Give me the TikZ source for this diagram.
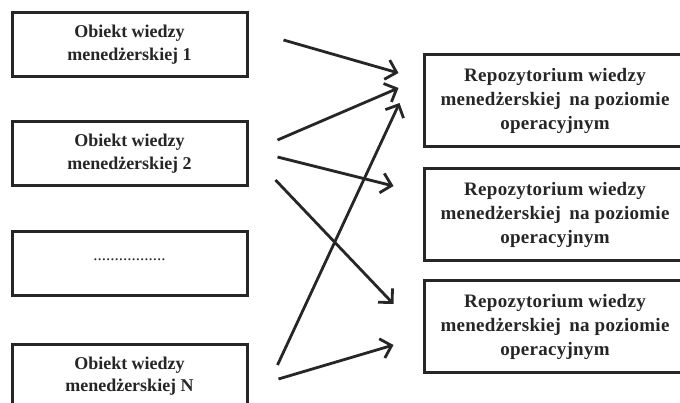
\documentclass[tikz,border=0pt]{standalone}
\usepackage{fontspec}
\setmainfont{Liberation Serif}
\newfontfamily\repofont[LetterSpace=1.5]{Liberation Serif}
\usepackage{tikz}
\usetikzlibrary{arrows.meta,positioning,calc}
\definecolor{InkGray}{HTML}{262626}

\begin{document}
\begin{tikzpicture}[x=1pt, y=-1pt,
          obj/.style={rectangle, draw=InkGray, line width=3pt, minimum width=235pt, minimum height=64pt, inner sep=0pt, text=InkGray, font=\fontsize{18}{23}\selectfont\bfseries, align=center},
          repo/.style={rectangle, draw=InkGray, line width=3pt, minimum width=261pt, minimum height=92pt, inner sep=0pt, text=InkGray, font=\repofont\fontsize{19}{24}\selectfont\bfseries, align=center},
          link/.style={draw=InkGray, line width=2.8pt, -{Straight Barb[length=10pt, width=20pt]}}
        ]
          \useasboundingbox (0,0) rectangle (680,403);
          \clip (0,0) rectangle (680,403);
          \fill[white] (0,0) rectangle (680,403);
          % source objects
          \node[obj] (obj1) at (129.5,45) {Obiekt wiedzy\\mened\.zerskiej 1};
          \node[obj] (obj2) at (129.5,154) {Obiekt wiedzy\\mened\.zerskiej 2};
          \node[obj, font=\fontsize{17}{18}\selectfont] (objdots) at (129.5,263.5) {\raisebox{8pt}{.................}};
          \node[obj] (objN) at (129.5,376) {\raisebox{-1pt}{Obiekt wiedzy}\\mened\.zerskiej N};
          % repositories
          \node[repo] (rep1) at (555,101) {Repozytorium wiedzy\\mened\.zerskiej\, na poziomie\\operacyjnym};
          \node[repo] (rep2) at (555,214.5) {Repozytorium wiedzy\\mened\.zerskiej\, na poziomie\\operacyjnym};
          \node[repo] (rep3) at (555,326.5) {Repozytorium wiedzy\\mened\.zerskiej\, na poziomie\\operacyjnym};
          % arrow ends
          \coordinate (s1) at ($(obj1.east)+(35,-5)$);
          \coordinate (e1) at ($(rep1.west)+(-24.5,-28)$);
          \coordinate (s2) at ($(obj2.east)+(29,-14)$);
          \coordinate (e2) at ($(rep1.west)+(-24.5,-13)$);
          \coordinate (s3) at ($(obj2.east)+(29,3)$);
          \coordinate (e3) at ($(rep2.west)+(-29.5,-28.5)$);
          \coordinate (s4) at ($(obj2.east)+(27,26)$);
          \coordinate (e4) at ($(rep3.west)+(-29.5,-22.5)$);
          \coordinate (s5) at ($(objN.east)+(29,-11)$);
          \coordinate (e5) at ($(rep1.west)+(-23.5,2)$);
          \coordinate (s6) at ($(objN.east)+(30,3)$);
          \coordinate (e6) at ($(rep3.west)+(-29.5,18.5)$);
          \draw[link] (s1) -- (e1);
          \draw[link] (s2) -- (e2);
          \draw[link] (s3) -- (e3);
          \draw[link] (s4) -- (e4);
          \draw[link] (s5) -- (e5);
          \draw[link] (s6) -- (e6);
        \end{tikzpicture}
\end{document}
